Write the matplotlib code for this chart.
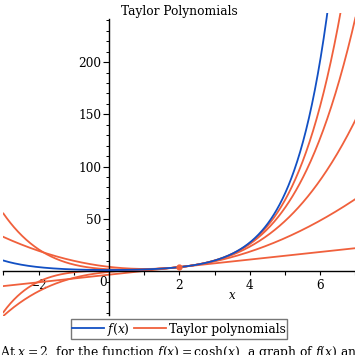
import numpy as np
import matplotlib.pyplot as plt
from matplotlib.ticker import MultipleLocator
from math import factorial

plt.rcParams['font.family'] = 'DejaVu Serif'
plt.rcParams['mathtext.fontset'] = 'dejavuserif'

# expansion point and the Taylor degrees drawn
x_center = 2.0
degrees = [1, 2, 3, 4, 5]
# derivatives of cosh at x = 2 (cosh, sinh, cosh, ...)
derivs = [np.cosh(2.0), np.sinh(2.0), np.cosh(2.0), np.sinh(2.0), np.cosh(2.0), np.sinh(2.0)]

x_min, x_max = -3.0, 7.0
y_min, y_max = -43, 247
xtick_labels = [-2, 2, 4, 6]
ytick_labels = [50, 100, 150, 200]

blue = "#1250c4"
orange = "#f0603c"

fig = plt.figure(figsize=(3.55, 3.55), dpi=100)
ax = fig.add_axes([0.0096, 0.1099, 0.9915, 0.8535])

xs = np.linspace(x_min, x_max, 600)
ax.plot(xs, np.cosh(xs), color=blue, lw=1.3, label="$f(x)$", zorder=3)

for n, deg in enumerate(degrees):
    ys = np.zeros_like(xs)
    for k in range(deg + 1):
        ys += derivs[k] / factorial(k) * (xs - x_center) ** k
    ax.plot(xs, ys, color=orange, lw=1.3, label="Taylor polynomials" if n == 0 else None, zorder=2)

ax.plot([x_center], [derivs[0]], "o", color=orange, ms=3.5, zorder=4)

ax.set_xlim(x_min, x_max)
ax.set_ylim(y_min, y_max)

for s in ["top", "right"]:
    ax.spines[s].set_visible(False)
ax.spines["left"].set_position(("data", 0))
ax.spines["bottom"].set_position(("data", 0))
ax.spines["left"].set_bounds(y_min + 1, 241)
ax.spines["left"].set_linewidth(1.0)
ax.spines["bottom"].set_linewidth(1.0)

ax.set_xticks(xtick_labels)
ax.set_xticklabels(["\u22122", "2", "4", "6"])
ax.xaxis.set_minor_locator(MultipleLocator(1))
ax.set_yticks(ytick_labels)
ax.yaxis.set_minor_locator(MultipleLocator(10))
ax.tick_params(axis="x", which="both", direction="out", length=3, width=0.8, labelsize=8.7, pad=3)
ax.tick_params(axis="y", which="major", direction="out", length=4, width=0.8, labelsize=8.7, pad=1.5)
ax.tick_params(axis="y", which="minor", direction="out", length=2.5, width=0.7)

ax.text(-0.06, -5, "0", ha="right", va="top", fontsize=8.7)
ax.text(3.5, -17, "$x$", ha="center", va="top", fontsize=8.5)

ax.set_title("Taylor Polynomials", fontsize=8.8, pad=0, y=0.992)

fig.legend(loc="center", bbox_to_anchor=(0.504, 0.073), ncol=2, fontsize=8.8,
           frameon=True, fancybox=False, edgecolor="#555555", handlelength=2.6,
           handletextpad=0.2, columnspacing=0.4, borderpad=0.15, borderaxespad=0)

fig.text(0.0, 0.006, "At $x = 2$, for the function $f(x) = \\cosh(x)$, a graph of $f(x)$ and its Taylor polynomials",
         ha="left", va="center", fontsize=8.9)

fig.savefig("out.png", dpi=100)
